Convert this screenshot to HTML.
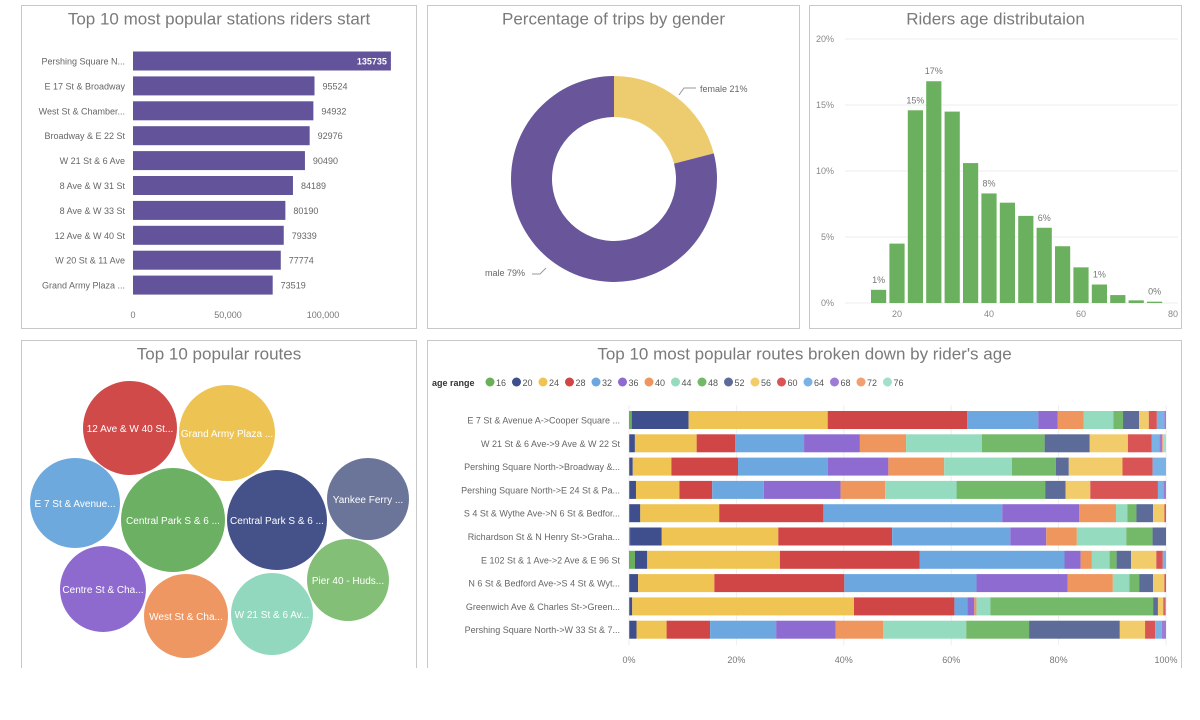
<!DOCTYPE html>
<html><head><meta charset="utf-8">
<style>
body{margin:0;width:1200px;height:720px;background:#fff;font-family:"Liberation Sans",sans-serif;overflow:hidden}
svg{position:absolute;left:0;top:0}
</style></head>
<body>
<svg id="s" width="1200" height="720"></svg>
<script>
// Top stations
const stations=["Pershing Square N...","E 17 St & Broadway","West St & Chamber...","Broadway & E 22 St","W 21 St & 6 Ave","8 Ave & W 31 St","8 Ave & W 33 St","12 Ave & W 40 St","W 20 St & 11 Ave","Grand Army Plaza ..."];
const stationCounts=[135735,95524,94932,92976,90490,84189,80190,79339,77774,73519];
const stationTicks=[0,50000,100000];
// Gender
const genders=["female","male"];
const genderPct=[21,79];
// Age histogram
const ageBins=[16,20,24,28,32,36,40,44,48,52,56,60,64,68,72,76];
const agePct=[1.0,4.5,14.6,16.8,14.5,10.6,8.3,7.6,6.6,5.7,4.3,2.7,1.4,0.6,0.2,0.1];
const ageLabels=["1%","","15%","17%","","","8%","","","6%","","","1%","","","0%"];
const ageYTicks=[0,5,10,15,20];
const ageXTicks=[20,40,60,80];
// Bubbles
const bubbleNames=["12 Ave & W 40 St...","Grand Army Plaza ...","E 7 St & Avenue...","Central Park S & 6 ...","Central Park S & 6 ...","Yankee Ferry ...","Centre St & Cha...","West St & Cha...","W 21 St & 6 Av...","Pier 40 - Huds..."];
const bubbleSizes=[47,48,45,52,50,41,43,42,41,41];
const bubbleX=[130,227,75,173,277,368,103,186,272,348];
const bubbleY=[428,433,503,520,520,499,589,616,614,580];
const bubbleColors=["#D04A4A","#EDC453","#6EA9DD","#6BB063","#45528A","#6A7599","#8E6ACF","#EE9763","#92D8BE","#84BF78"];
// Routes by age
const routes=["E 7 St & Avenue A->Cooper Square ...","W 21 St & 6 Ave->9 Ave & W 22 St","Pershing Square North->Broadway &...","Pershing Square North->E 24 St & Pa...","S 4 St & Wythe Ave->N 6 St & Bedfor...","Richardson St & N Henry St->Graha...","E 102 St & 1 Ave->2 Ave & E 96 St","N 6 St & Bedford Ave->S 4 St & Wyt...","Greenwich Ave & Charles St->Green...","Pershing Square North->W 33 St & 7..."];
const ageRanges=["16","20","24","28","32","36","40","44","48","52","56","60","64","68","72","76"];
const r0=[0.5,10.6,25.9,26.0,13.2,3.6,4.9,5.5,1.8,3.0,1.8,1.5,1.4,0.3,0,0];
const r1=[0.1,1.0,11.5,7.2,12.8,10.4,8.6,14.1,11.7,8.4,7.1,4.4,1.5,0.5,0.2,0.5];
const r2=[0.1,0.6,7.2,12.4,16.7,11.3,10.4,12.6,8.2,2.4,10.0,5.6,2.5,0,0,0];
const r3=[0.1,1.2,8.1,6.1,9.6,14.3,8.3,13.3,16.5,3.8,4.6,12.6,1.0,0.5,0,0];
const r4=[0.1,2.0,14.7,19.4,33.3,14.3,6.9,2.1,1.7,3.1,2.1,0.3,0,0,0,0];
const r5=[0.2,5.9,21.7,21.2,22.0,6.7,5.7,9.2,4.9,2.5,0,0,0,0,0,0];
const r6=[1.1,2.3,24.7,26.0,27.0,3.0,2.1,3.3,1.3,2.7,4.7,1.2,0.6,0,0,0];
const r7=[0.1,1.6,14.2,24.2,24.6,17.0,8.4,3.1,1.8,2.6,2.1,0.3,0,0,0,0];
const r8=[0.1,0.5,41.3,18.7,2.4,1.3,0.4,2.6,30.3,0.9,1.0,0.3,0.2,0,0,0];
const r9=[0.1,1.3,5.6,8.1,12.3,11.1,8.8,15.5,11.7,16.9,4.7,1.9,1.2,0.8,0,0];
const routeData=[r0,r1,r2,r3,r4,r5,r6,r7,r8,r9];
const pctTicks=[0,20,40,60,80,100];
const ageColors=["#69B058","#3F4E8C","#F0C453","#D04545","#6CA8DF","#8D6BD1","#EF955E","#94DBBF","#74B86A","#5D6B99","#F2CC6B","#D95555","#7AB2E6","#9E7CD6","#F29F70","#A3E0C9"];

const S=document.getElementById('s');const NS="http://www.w3.org/2000/svg";
function el(t,a,txt){const e=document.createElementNS(NS,t);for(const k in a)e.setAttribute(k,a[k]);if(txt!==undefined)e.textContent=txt;S.appendChild(e);return e;}
function txt(x,y,s,size,fill,anchor,name){const e=el('text',{x:x,y:y,'font-size':size,fill:fill,'text-anchor':anchor||'start'},s);

return e;}
function panel(x,y,w,h,title,name){const r=el('rect',{x:x,y:y,width:w,height:h,fill:'#fff',stroke:'#c8c8c8','stroke-width':1});


txt(x+w/2,y+19,title,17,'#7a7a7a','middle','panel-title');}

panel(21.5,5.5,395,323,"Top 10 most popular stations riders start","stations-panel");
panel(427.5,5.5,372,323,"Percentage of trips by gender","gender-panel");
panel(809.5,5.5,372,323,"Riders age distributaion","age-panel");
panel(21.5,340.5,395,340,"Top 10 popular routes","bubbles-panel");
panel(427.5,340.5,754,340,"Top 10 most popular routes broken down by rider's age","routes-age-panel");
el('rect',{x:0,y:668,width:1200,height:52,fill:'#fff'});

// stations bar
const sx=v=>133+v*0.0019;
stationTicks.forEach(t=>txt(sx(t),318,t.toLocaleString('en-US'),9,'#777','middle','x-tick'));
stations.forEach((n,i)=>{const yc=61+i*24.9;
const b=el('rect',{x:sx(0),y:yc-9.5,width:sx(stationCounts[i])-sx(0),height:19,fill:'#63539A'});


txt(125,yc+3.5,n,9,'#666','end','station-label');
if(i===0)txt(sx(stationCounts[i])-4,yc+3.5,stationCounts[i],9,'#fff','end','bar-value').setAttribute('font-weight','bold');
else txt(sx(stationCounts[i])+8,yc+3.5,stationCounts[i],9,'#666','start','bar-value');});

// donut
(function(){const cx=614,cy=179,R=103,r=62;let a0=0;const cols=['#EDCB6F','#68559A'];
genderPct.forEach((p,i)=>{const a1=a0+p/100*2*Math.PI;const pt=(rad,a)=>[cx+rad*Math.sin(a),cy-rad*Math.cos(a)];
const [x1,y1]=pt(R,a0),[x2,y2]=pt(R,a1),[x3,y3]=pt(r,a1),[x4,y4]=pt(r,a0);const lg=(a1-a0)>Math.PI?1:0;
const p2=el('path',{d:`M${x1},${y1}A${R},${R} 0 ${lg} 1 ${x2},${y2}L${x3},${y3}A${r},${r} 0 ${lg} 0 ${x4},${y4}Z`,fill:cols[i]});

a0=a1;});
el('path',{d:'M679,95 L684,88 L696,88',stroke:'#999',fill:'none'});
el('path',{d:'M532,274 L540,274 L546,268',stroke:'#999',fill:'none'});
txt(700,92,genders[0]+' '+genderPct[0]+'%',9,'#666','start','female-label');
txt(485,276,genders[1]+' '+genderPct[1]+'%',9,'#666','start','male-label');})();

// histogram
const hx=v=>897+(v-20)*4.6, hy=v=>303-v*13.2;
ageYTicks.forEach(t=>{el('line',{x1:845,x2:1178,y1:hy(t),y2:hy(t),stroke:'#eee'});txt(834,hy(t)+3,t+'%',9,'#888','end','y-tick');});
ageXTicks.forEach(t=>txt(hx(t),317,t,9,'#888','middle','x-tick'));
ageBins.forEach((b,i)=>{const rr=el('rect',{x:hx(b)-7.6,y:hy(agePct[i]),width:15.2,height:hy(0)-hy(agePct[i]),fill:'#6BB05E'});


if(ageLabels[i])txt(hx(b),hy(agePct[i])-7,ageLabels[i],9,'#777','middle','bar-label');});

// bubbles
bubbleNames.forEach((n,i)=>{const c=el('circle',{cx:bubbleX[i],cy:bubbleY[i],r:bubbleSizes[i],fill:bubbleColors[i]});


txt(bubbleX[i],bubbleY[i]+4,n,10,'#fff','middle','bubble-label');});

// legend
txt(432,386,'age range',9,'#333','start','legend-title').setAttribute('font-weight','bold');
let lx=490;ageRanges.forEach((a,i)=>{const c=el('circle',{cx:lx,cy:382,r:4.5,fill:ageColors[i]});


txt(lx+6,386,a,9,'#555','start','legend-label');lx+=26.5;});

// stacked
const px=v=>629+v*5.37;
pctTicks.forEach(t=>{el('line',{x1:px(t),x2:px(t),y1:405,y2:645,stroke:'#eee'});txt(px(t),663,t+'%',9,'#777','middle','x-tick');});
routes.forEach((n,i)=>{const yc=420+i*23.3;let acc=0;
txt(620,yc+3.5,n,9,'#666','end','route-label');
routeData[i].forEach((v,j)=>{if(v<=0)return;const rr=el('rect',{x:px(acc),y:yc-9,width:px(acc+v)-px(acc),height:18,fill:ageColors[j]});

acc+=v;});});
</script>
</body></html>
